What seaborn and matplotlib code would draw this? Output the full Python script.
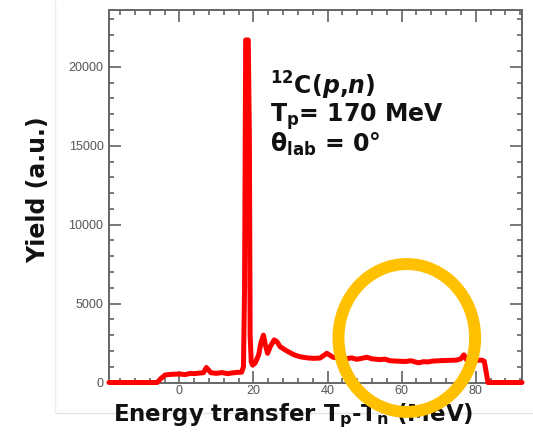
import matplotlib
matplotlib.use("Agg")
import matplotlib.pyplot as plt
import seaborn as sns
import pandas as pd
from matplotlib.patches import Ellipse
from matplotlib.lines import Line2D
from matplotlib.ticker import MultipleLocator

# ---- data ----
x_mev = [
    -19.0, -6.0, -5.0, -3.8, -2.0, 0.0, 1.5, 3.0, 4.0, 5.5,
    6.5, 7.3, 8.5, 10.0, 11.5, 13.0, 14.0, 15.5, 16.8, 17.3,
    17.6, 17.9, 18.2, 18.6, 18.9, 19.1, 19.4, 19.8, 20.5, 21.4,
    22.0, 22.7, 23.2, 23.8, 24.6, 25.6, 26.3, 27.2, 28.3, 29.4,
    31.0, 32.6, 34.5, 36.2, 38.0, 39.8, 40.5, 41.5, 43.0, 45.0,
    46.5, 47.9, 49.0, 50.6, 52.0, 54.0, 55.5, 56.8, 59.0, 61.0,
    62.5, 64.5, 66.0, 67.0, 68.5, 70.3, 72.5, 74.8, 76.0, 76.8,
    77.5, 78.4, 80.0, 81.5, 82.3, 82.8, 83.3, 85.0, 88.0, 92.5,
]
yield_au = [
    0, 0, 250, 480, 520, 540, 500, 580, 560, 600,
    620, 950, 620, 580, 630, 560, 600, 640, 650, 1000,
    6000, 21700, 21700, 21700, 15500, 3000, 1300, 1100, 1250, 1750,
    2500, 3000, 2400, 1850, 2300, 2700, 2600, 2270, 2100, 1950,
    1750, 1630, 1560, 1530, 1550, 1850, 1750, 1600, 1550, 1500,
    1560, 1470, 1520, 1600, 1500, 1450, 1480, 1380, 1350, 1330,
    1380, 1250, 1320, 1300, 1360, 1380, 1400, 1420, 1500, 1750,
    1450, 1420, 1400, 1420, 1350, 700, 0, 0, 0, 0,
]
x_ticks = [0, 20, 40, 60, 80]
y_ticks = [0, 5000, 10000, 15000, 20000]
x_label = "Energy transfer T$_\\mathrm{p}$-T$_\\mathrm{n}$ (MeV)"
y_label = "Yield (a.u.)"
note_lines = ["$^{12}$C($p$,$n$)", "T$_\\mathrm{p}$= 170 MeV", "\u03b8$_\\mathrm{lab}$ = 0\u00b0"]

df = pd.DataFrame({"x": x_mev, "y": yield_au})

sns.set_theme(style="ticks")
plt.rcParams["font.family"] = ["Liberation Sans", "DejaVu Sans"]
plt.rcParams["mathtext.fontset"] = "custom"
plt.rcParams["mathtext.rm"] = "DejaVu Sans:bold"
plt.rcParams["mathtext.it"] = "DejaVu Sans:bold:italic"
plt.rcParams["mathtext.bf"] = "DejaVu Sans:bold"

big = dict(family=["DejaVu Sans"], fontweight="bold", color="#111111")

fig = plt.figure(figsize=(5.33, 4.33), dpi=100)
ax = fig.add_axes([109 / 533, 1 - 382.5 / 433, 413 / 533, 372.5 / 433])

sns.lineplot(data=df, x="x", y="y", ax=ax, color="#ff0000", linewidth=3.6,
             estimator=None, sort=False, legend=False)
for ln in ax.lines:
    ln.set_clip_on(False)
    ln.set_zorder(5)

ax.set_xlim(-19, 92.5)
ax.set_ylim(0, 23600)
ax.set_xticks(x_ticks)
ax.set_yticks(y_ticks)
ax.xaxis.set_minor_locator(MultipleLocator(4))
ax.yaxis.set_minor_locator(MultipleLocator(1000))
ax.tick_params(which="both", direction="in", top=True, right=True,
               color="#555555", width=1.1, labelcolor="#555555", labelsize=9)
ax.tick_params(which="major", length=8.5)
ax.tick_params(which="minor", length=3.5)
ax.tick_params(axis="x", pad=2)
ax.tick_params(axis="y", pad=4)
for s in ax.spines.values():
    s.set_color("#666666")
    s.set_linewidth(1.4)

ax.set_xlabel(x_label, fontsize=16.5, **big)
ax.set_ylabel(y_label, fontsize=17, **big)
ax.xaxis.set_label_coords(0.447, -0.1047)
ax.xaxis.label.set_va("baseline")
ax.yaxis.set_label_coords(-0.172, 0.517)
ax.yaxis.label.set_va("center")

# annotation block as one multi-line text (baseline = last line)
fig.text(270 / 533, 1 - 151.7 / 433, "\n".join(note_lines), fontsize=17,
         ha="left", va="baseline", linespacing=0.95, **big)

# faint slide-border lines (behind everything)
fig.add_artist(Line2D([55 / 533, 1.0], [1 - 413 / 433, 1 - 413 / 433],
                      color="#e4e4e4", linewidth=1.0, zorder=-5,
                      transform=fig.transFigure))
fig.add_artist(Line2D([55 / 533, 55 / 533], [1 - 413 / 433, 1.0],
                      color="#eeeeee", linewidth=1.0, zorder=-5,
                      transform=fig.transFigure))

# highlight ellipse
ell = Ellipse((61.4, 2820), width=36.9, height=9370, fill=False,
              edgecolor="#FFC000", linewidth=8.6, clip_on=False, zorder=20)
ax.add_patch(ell)

fig.savefig("out.png", dpi=100)
